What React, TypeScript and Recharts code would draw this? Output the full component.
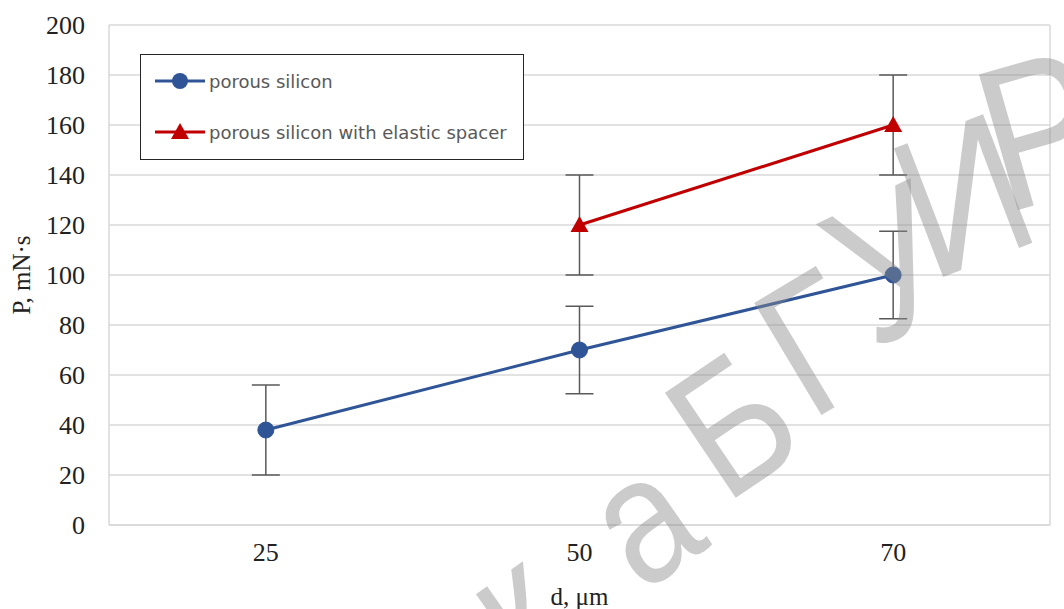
import { LineChart, Line, XAxis, YAxis, CartesianGrid, ErrorBar, Legend } from 'recharts'

const categories = ['25', '50', '70']
const poreValues = [38, 70, 100]
const poreErrors = [18, 17.5, 17.5]
const spacerValues = [null, 120, 160]
const spacerErrors = [null, 20, 20]
const yTicks = [0, 20, 40, 60, 80, 100, 120, 140, 160, 180, 200]

// watermark glyphs: letter, origin x/y, rotation, size
const wmLetters = ['к', 'а', 'Б', 'Г', 'У', 'И', 'Р']
const wmX = [522, 642, 725, 810, 872, 930, 1004]
const wmY = [678, 594, 505, 422, 350, 282, 214]
const wmRot = [-35, -35, -34, -31, -26, -21, -16]
const wmSize = [180, 180, 184, 190, 200, 200, 205]

const BLUE = '#2f5597'
const RED = '#c00000'
const ERR = '#595959'
const serif = '"Liberation Serif", "Times New Roman", serif'

const chartData = categories.map((d, i) => ({
  d,
  pore: poreValues[i],
  poreErr: poreErrors[i],
  spacer: spacerValues[i],
  spacerErr: spacerErrors[i],
}))

const Triangle = (props: any) => {
  const { cx, cy, value, index } = props
  if (value == null || cx == null || cy == null) return <g key={`t${index}`} />
  return <path key={`t${index}`} d={`M${cx},${cy - 9} L${cx + 9},${cy + 7} L${cx - 9},${cy + 7} Z`} fill={RED} />
}

const LegendBox = (props: any) => {
  const { payload } = props
  return (
    <div style={{ width: 384, height: 106, border: '1.5px solid #262626', background: '#fff', boxSizing: 'border-box', paddingTop: 13 }}>
      {(payload || []).map((entry: any, i: number) => (
        <div key={i} style={{ display: 'flex', alignItems: 'center', height: 26, marginBottom: 25, paddingLeft: 14 }}>
          <svg width={52} height={20}>
            <line x1={0} y1={10} x2={50} y2={10} stroke={entry.color} strokeWidth={3} />
            {i === 0 ? (
              <circle cx={25} cy={10} r={8} fill={entry.color} />
            ) : (
              <path d="M25,1 L34,17 L16,17 Z" fill={entry.color} />
            )}
          </svg>
          <span style={{ fontFamily: '"DejaVu Sans", sans-serif', fontSize: 18, color: '#595959', marginLeft: 2, whiteSpace: 'nowrap' }}>
            {entry.value}
          </span>
        </div>
      ))}
    </div>
  )
}

export default function App() {
  return (
    <div style={{ position: 'absolute', left: 0, top: 0, width: 1064, height: 609, background: '#fff', overflow: 'hidden' }}>
      <LineChart width={1064} height={609} data={chartData} margin={{ top: 25, right: 14, left: 0, bottom: 0 }}>
        <CartesianGrid
          stroke="#d9d9d9"
          strokeWidth={1.5}
          verticalCoordinatesGenerator={({ offset }: any) => [offset.left, offset.left + offset.width]}
        />
        <XAxis
          dataKey="d"
          scale="band"
          height={84}
          axisLine={{ stroke: '#d9d9d9', strokeWidth: 1.5 }}
          tickLine={false}
          tickSize={0}
          tickMargin={18}
          tick={{ fill: '#222', fontSize: 26, fontFamily: serif }}
          label={{
            content: ({ viewBox }: any) => (
              <text x={viewBox.x + viewBox.width / 2} y={viewBox.y + 80} textAnchor="middle" fill="#222" fontSize={25} fontFamily={serif}>
                d, μm
              </text>
            ),
          }}
        />
        <YAxis
          width={109}
          domain={[0, 200]}
          ticks={yTicks}
          interval={0}
          axisLine={false}
          tickLine={false}
          tickSize={0}
          tickMargin={24}
          tick={{ fill: '#222', fontSize: 26, fontFamily: serif }}
          label={{
            content: ({ viewBox }: any) => (
              <text
                x={viewBox.x + 30}
                y={viewBox.y + viewBox.height / 2}
                transform={`rotate(-90 ${viewBox.x + 30} ${viewBox.y + viewBox.height / 2})`}
                textAnchor="middle"
                fill="#222"
                fontSize={25}
                fontFamily={serif}
              >
                P, mN·s
              </text>
            ),
          }}
        />
        <Legend
          layout="vertical"
          align="center"
          verticalAlign="middle"
          content={<LegendBox />}
          wrapperStyle={{ left: 140, top: 54, width: 384, height: 106 }}
        />
        <Line
          name="porous silicon"
          dataKey="pore"
          stroke={BLUE}
          strokeWidth={3}
          dot={{ r: 8, fill: BLUE, stroke: BLUE, strokeWidth: 1 }}
          isAnimationActive={false}
        >
          <ErrorBar dataKey="poreErr" width={14} stroke={ERR} strokeWidth={1.5} direction="y" />
        </Line>
        <Line
          name="porous silicon with elastic spacer"
          dataKey="spacer"
          stroke={RED}
          strokeWidth={3}
          dot={<Triangle />}
          isAnimationActive={false}
        >
          <ErrorBar dataKey="spacerErr" width={14} stroke={ERR} strokeWidth={1.5} direction="y" />
        </Line>
      </LineChart>
      {/* watermark */}
      <svg width={1064} height={609} style={{ position: 'absolute', left: 0, top: 0, pointerEvents: 'none' }}>
        {wmLetters.map((ch, i) => (
          <text
            key={i}
            transform={`translate(${wmX[i]} ${wmY[i]}) rotate(${wmRot[i]}) scale(0.86 1)`}
            fontSize={wmSize[i]}
            fontFamily='"Liberation Sans", Arial, sans-serif'
            fill="#8c8c8c"
            fillOpacity={0.45}
          >
            {ch}
          </text>
        ))}
      </svg>
    </div>
  )
}
